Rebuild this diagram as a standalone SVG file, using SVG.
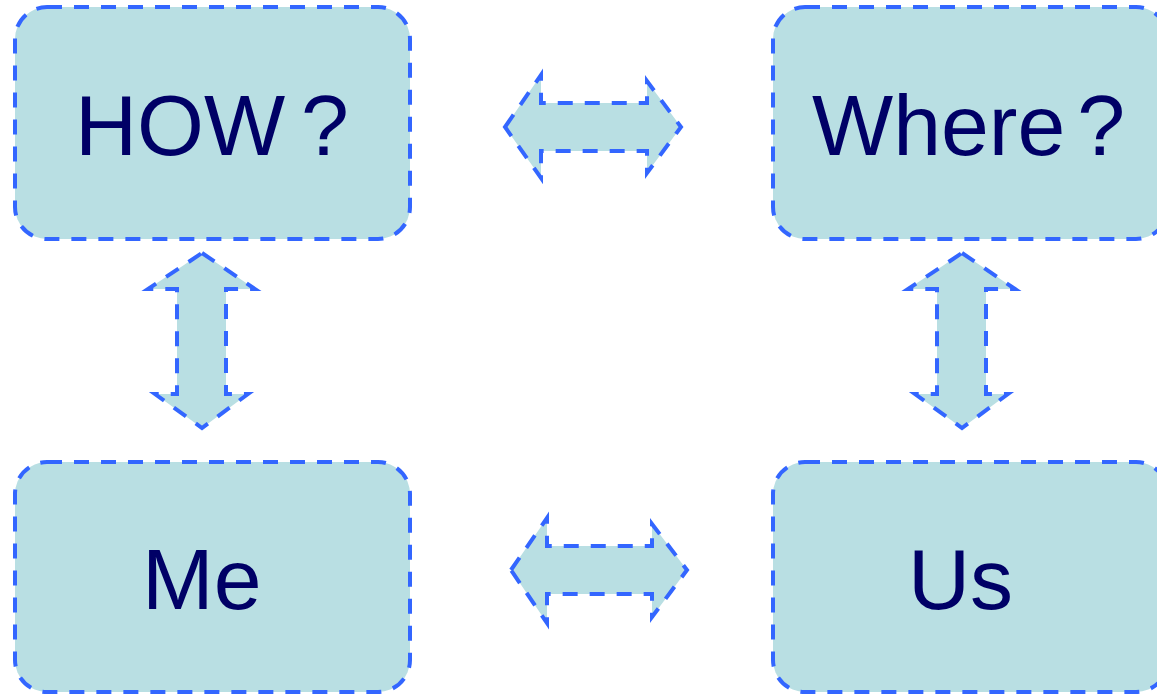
<svg xmlns="http://www.w3.org/2000/svg" width="1157" height="695" viewBox="0 0 1157 695">
<style>
.box{fill:#b9dfe3;stroke:#3366ff;stroke-width:4;stroke-dasharray:15 12;}
.arr{fill:#b9dfe3;stroke:#3366ff;stroke-width:4;stroke-dasharray:15 12;stroke-linejoin:miter;}
.lbl{font-family:"Liberation Sans",Arial,sans-serif;font-size:86px;fill:#000066;}
</style>
<rect width="1157" height="695" fill="#ffffff"/>
<g id="connectors">
<polygon class="arr" points="505,127 541,75 541,103 647,103 647,81 681,127 647,173 647,151 541,151 541,178"/>
<polygon class="arr" points="511,570 547,518 547,546 652,546 652,524 687,570 652,617 652,594 547,594 547,623"/>
<polygon class="arr" points="202,253 255,289 226,289 226,394 248,394 202,428 155,394 177,394 177,289 148,289"/>
<polygon class="arr" points="962,253 1015,289 986,289 986,394 1008,394 962,428 915,394 937,394 937,289 908,289"/>
</g>
<g id="how">
<rect class="box" x="15" y="7" width="395" height="232" rx="32" ry="32"/>
<text class="lbl" x="75" y="155" word-spacing="-8">HOW ?</text>
</g>
<g id="where">
<rect class="box" x="773" y="7" width="395" height="232" rx="32" ry="32"/>
<text class="lbl" x="812" y="155" word-spacing="-12">Where ?</text>
</g>
<g id="me">
<rect class="box" x="15" y="462" width="395" height="230" rx="32" ry="32"/>
<text class="lbl" x="142" y="609">Me</text>
</g>
<g id="us">
<rect class="box" x="773" y="462" width="395" height="230" rx="32" ry="32"/>
<text class="lbl" x="908" y="609">Us</text>
</g>
</svg>
